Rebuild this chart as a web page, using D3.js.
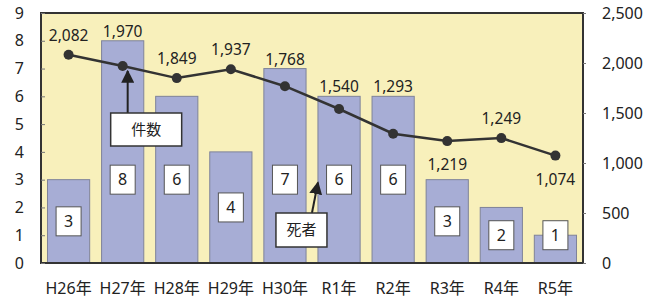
<!DOCTYPE html>
<html>
<head>
    <meta charset="utf-8">
    <script src="https://d3js.org/d3.v7.min.js" charset="utf-8"></script>
    <style>
        body { margin: 0; background: #fff; }
        text { font-family: "Noto Sans", "Noto Sans CJK JP", sans-serif; fill: #222; }
    </style>
</head>
<body>
<script>
    // data
    const years = ["H26年", "H27年", "H28年", "H29年", "H30年", "R1年", "R2年", "R3年", "R4年", "R5年"];
    const deaths = [3, 8, 6, 4, 7, 6, 6, 3, 2, 1];
    const cases = [2082, 1970, 1849, 1937, 1768, 1540, 1293, 1219, 1249, 1074];
    const leftTicks = [0, 1, 2, 3, 4, 5, 6, 7, 8, 9];
    const rightTicks = [0, 500, 1000, 1500, 2000, 2500];
    const belowLabels = ["R3年", "R5年"];

    const W = 652, H = 300;
    const pLeft = 41, pRight = 583, pTop = 13, pBottom = 263;

    const svg = d3.select("body").append("svg")
        .attr("width", W).attr("height", H);

    const x = d3.scaleBand().domain(years).range([pLeft, pRight])
        .paddingInner(0.22).paddingOuter(0.12);
    const yL = d3.scaleLinear().domain([0, 9]).range([pBottom, pTop]);
    const yR = d3.scaleLinear().domain([0, 2500]).range([pBottom, pTop]);

    // plot background
    svg.append("rect")
        .attr("x", pLeft).attr("y", pTop)
        .attr("width", pRight - pLeft).attr("height", pBottom - pTop)
        .style("fill", "#f8f0bb");

    // bars
    svg.selectAll("rect.bar")
        .data(deaths)
        .enter()
        .append("rect")
        .attr("class", "bar")
        .attr("x", (d, i) => x(years[i]))
        .attr("y", d => yL(d))
        .attr("width", x.bandwidth())
        .attr("height", d => yL(0) - yL(d))
        .style("fill", "#a7add5")
        .style("stroke", "#7f8399")
        .style("stroke-width", 1);

    // value boxes inside bars
    const boxW = 25, boxH = 29;
    const boxY = d => yL(Math.max(1, Math.min(d / 2, 3)));
    const boxes = svg.selectAll("g.vbox")
        .data(deaths)
        .enter()
        .append("g")
        .attr("class", "vbox")
        .attr("transform", (d, i) => `translate(${x(years[i]) + x.bandwidth() / 2},${boxY(d)})`);
    boxes.append("rect")
        .attr("x", -boxW / 2).attr("y", -boxH / 2)
        .attr("width", boxW).attr("height", boxH)
        .style("fill", "#fff")
        .style("stroke", "#555")
        .style("stroke-width", 1);
    boxes.append("text")
        .attr("text-anchor", "middle")
        .attr("dy", "0.36em")
        .style("font-size", "16px")
        .text(d => d);

    // frame
    svg.append("rect")
        .attr("x", pLeft).attr("y", pTop)
        .attr("width", pRight - pLeft).attr("height", pBottom - pTop)
        .style("fill", "none")
        .style("stroke", "#333")
        .style("stroke-width", 2);

    // axes
    const axL = svg.append("g")
        .attr("transform", `translate(${pLeft},0)`)
        .call(d3.axisLeft(yL).tickValues(leftTicks).tickSize(-4).tickPadding(17));
    const axR = svg.append("g")
        .attr("transform", `translate(${pRight},0)`)
        .call(d3.axisRight(yR).tickValues(rightTicks).tickSize(3).tickPadding(16)
            .tickFormat(d3.format(",")));
    const axB = svg.append("g")
        .attr("transform", `translate(0,${pBottom})`)
        .call(d3.axisBottom(x).tickSize(0).tickPadding(16));
    [axL, axR, axB].forEach(a => {
        a.select(".domain").remove();
        a.selectAll("line").style("stroke", "#777");
        a.selectAll("text").style("font-size", "16px").style("fill", "#222")
            .style("font-family", '"Noto Sans", "Noto Sans CJK JP", sans-serif');
    });
    axL.selectAll("text").attr("x", -17);
    axB.selectAll("text").attr("dy", "0.95em");

    // line
    const line = d3.line()
        .x((d, i) => x(years[i]) + x.bandwidth() / 2)
        .y(d => yR(d));
    svg.append("path")
        .datum(cases)
        .attr("d", line)
        .style("fill", "none")
        .style("stroke", "#333")
        .style("stroke-width", 2.5);
    svg.selectAll("circle.pt")
        .data(cases)
        .enter()
        .append("circle")
        .attr("class", "pt")
        .attr("cx", (d, i) => x(years[i]) + x.bandwidth() / 2)
        .attr("cy", d => yR(d))
        .attr("r", 5)
        .style("fill", "#333");

    // point labels
    svg.selectAll("text.pl")
        .data(cases)
        .enter()
        .append("text")
        .attr("class", "pl")
        .attr("x", (d, i) => x(years[i]) + x.bandwidth() / 2)
        .attr("y", (d, i) => belowLabels.includes(years[i])
            ? yR(d) + 29
            : Math.min(yR(d) - 14, yL(deaths[i]) - 4))
        .attr("text-anchor", "middle")
        .style("font-size", "15.5px")
        .text(d => d3.format(",")(d));

    // callouts
    svg.append("defs").append("marker")
        .attr("id", "arr")
        .attr("viewBox", "0 0 10 10")
        .attr("refX", 9).attr("refY", 5)
        .attr("markerWidth", 6.5).attr("markerHeight", 6.5)
        .attr("orient", "auto")
        .append("path").attr("d", "M0,0L10,5L0,10Z").style("fill", "#222");

    const callout = (label, bx, by, bw, bh, ax, ay, tx, ty) => {
        svg.append("line")
            .attr("x1", ax).attr("y1", ay).attr("x2", tx).attr("y2", ty)
            .style("stroke", "#222").style("stroke-width", 2)
            .attr("marker-end", "url(#arr)");
        svg.append("rect")
            .attr("x", bx).attr("y", by).attr("width", bw).attr("height", bh)
            .style("fill", "#fff").style("stroke", "#333").style("stroke-width", 1.5);
        svg.append("text")
            .attr("x", bx + bw / 2).attr("y", by + bh / 2)
            .attr("dy", "0.36em")
            .attr("text-anchor", "middle")
            .style("font-size", "15px")
            .style("font-family", '"Noto Sans CJK JP", sans-serif')
            .text(label);
    };
    const c27 = x("H27年") + x.bandwidth() / 2;
    callout("件数", c27 - 12, yR(cases[1]) + 47, 71, 33, c27 + 5, yR(cases[1]) + 47, c27 + 5, yR(cases[1]) + 5);
    const r1 = x("R1年");
    callout("死者", r1 - 42, yL(1.8), 51, 34, r1 - 6, yL(1.8), r1, yL(2.9));
</script>
</body>
</html>
